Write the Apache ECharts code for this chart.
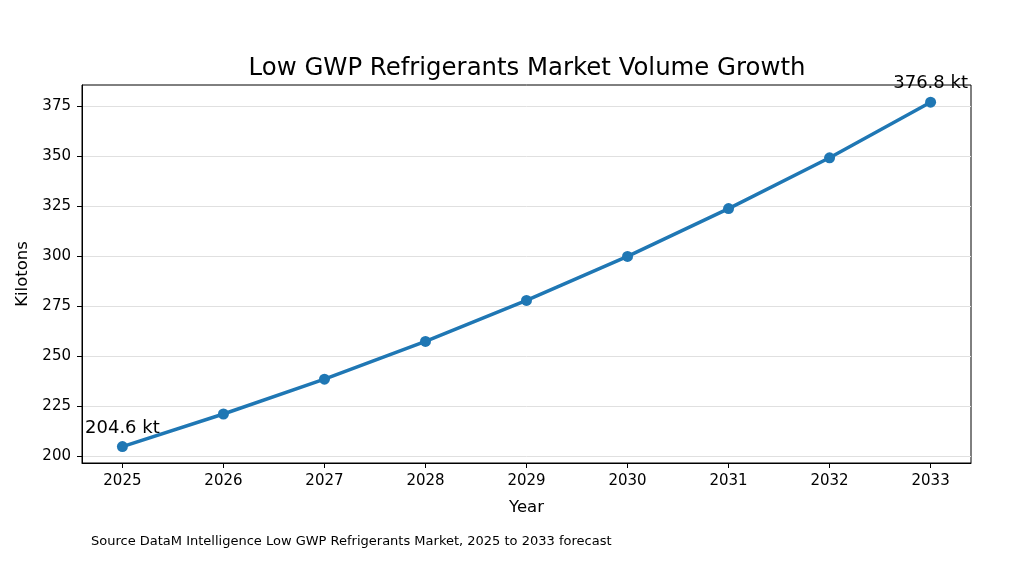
<!DOCTYPE html>
<html>
<head>
<meta charset="utf-8">
<script src="https://cdn.jsdelivr.net/npm/echarts@6/dist/echarts.min.js"></script>
<style>html,body{margin:0;padding:0;background:#fff;}#c{width:1033px;height:577px;}</style>
</head>
<body>
<div id="c"></div>
<script>
const years = [2025, 2026, 2027, 2028, 2029, 2030, 2031, 2032, 2033];
const volumes = [204.6, 220.9, 238.3, 257.2, 277.7, 299.7, 323.6, 349.0, 376.8];
const yTicks = [200, 225, 250, 275, 300, 325, 350, 375];
const annotated = [0, 8];
const titleText = 'Low GWP Refrigerants Market Volume Growth';
const sourceText = 'Source DataM Intelligence Low GWP Refrigerants Market, 2025 to 2033 forecast';

const FONT = '"DejaVu Sans", sans-serif';
const chart = echarts.init(document.getElementById('c'));

const seriesData = years.map((y, i) => {
  const item = { value: [y, volumes[i]] };
  if (annotated.includes(i)) {
    item.label = {
      show: true, position: 'top', distance: 4,
      formatter: volumes[i].toFixed(1) + ' kt',
      fontFamily: FONT, fontSize: 18, color: '#000'
    };
  }
  return item;
});

chart.setOption({
  animation: false,
  backgroundColor: '#fff',
  grid: { left: 82, right: 62, top: 85, bottom: 114, show: true, borderColor: '#000', borderWidth: 1, backgroundColor: 'transparent' },
  graphic: [
    { type: 'text', x: 527, y: 69, style: { text: titleText, font: '24.4px ' + FONT, fill: '#000', textAlign: 'center', textVerticalAlign: 'middle' } },
    { type: 'text', x: 91, y: 542, style: { text: sourceText, font: '13px ' + FONT, fill: '#000', textAlign: 'left', textVerticalAlign: 'middle' } }
  ],
  xAxis: {
    type: 'value', min: 2024.6, max: 2033.4,
    name: 'Year', nameLocation: 'middle', nameGap: 36,
    nameTextStyle: { fontFamily: FONT, fontSize: 16.5, color: '#000' },
    axisLine: { show: true, onZero: false, lineStyle: { color: '#000', width: 1 } },
    axisTick: { show: true, length: 5, lineStyle: { color: '#000' }, customValues: years },
    axisLabel: { fontFamily: FONT, fontSize: 15, color: '#000', margin: 11, customValues: years, formatter: v => String(v) },
    splitLine: { show: false }
  },
  yAxis: {
    type: 'value', min: 196.4, max: 385.4,
    name: 'Kilotons', nameLocation: 'middle', nameGap: 47,
    nameTextStyle: { fontFamily: FONT, fontSize: 16.5, color: '#000' },
    axisLine: { show: true, onZero: false, lineStyle: { color: '#000', width: 1 } },
    axisTick: { show: true, length: 5, lineStyle: { color: '#000' }, customValues: yTicks },
    axisLabel: { fontFamily: FONT, fontSize: 15, color: '#000', margin: 11, customValues: yTicks, formatter: v => String(v) },
    splitLine: { show: true, lineStyle: { color: '#e0e0e0', width: 1 } }
  },
  series: [{
    type: 'line', data: seriesData, z: 3,
    symbol: 'circle', symbolSize: 11,
    lineStyle: { color: '#1f77b4', width: 3.5 },
    itemStyle: { color: '#1f77b4' },
    label: { show: false }
  }]
});
</script>
</body>
</html>
